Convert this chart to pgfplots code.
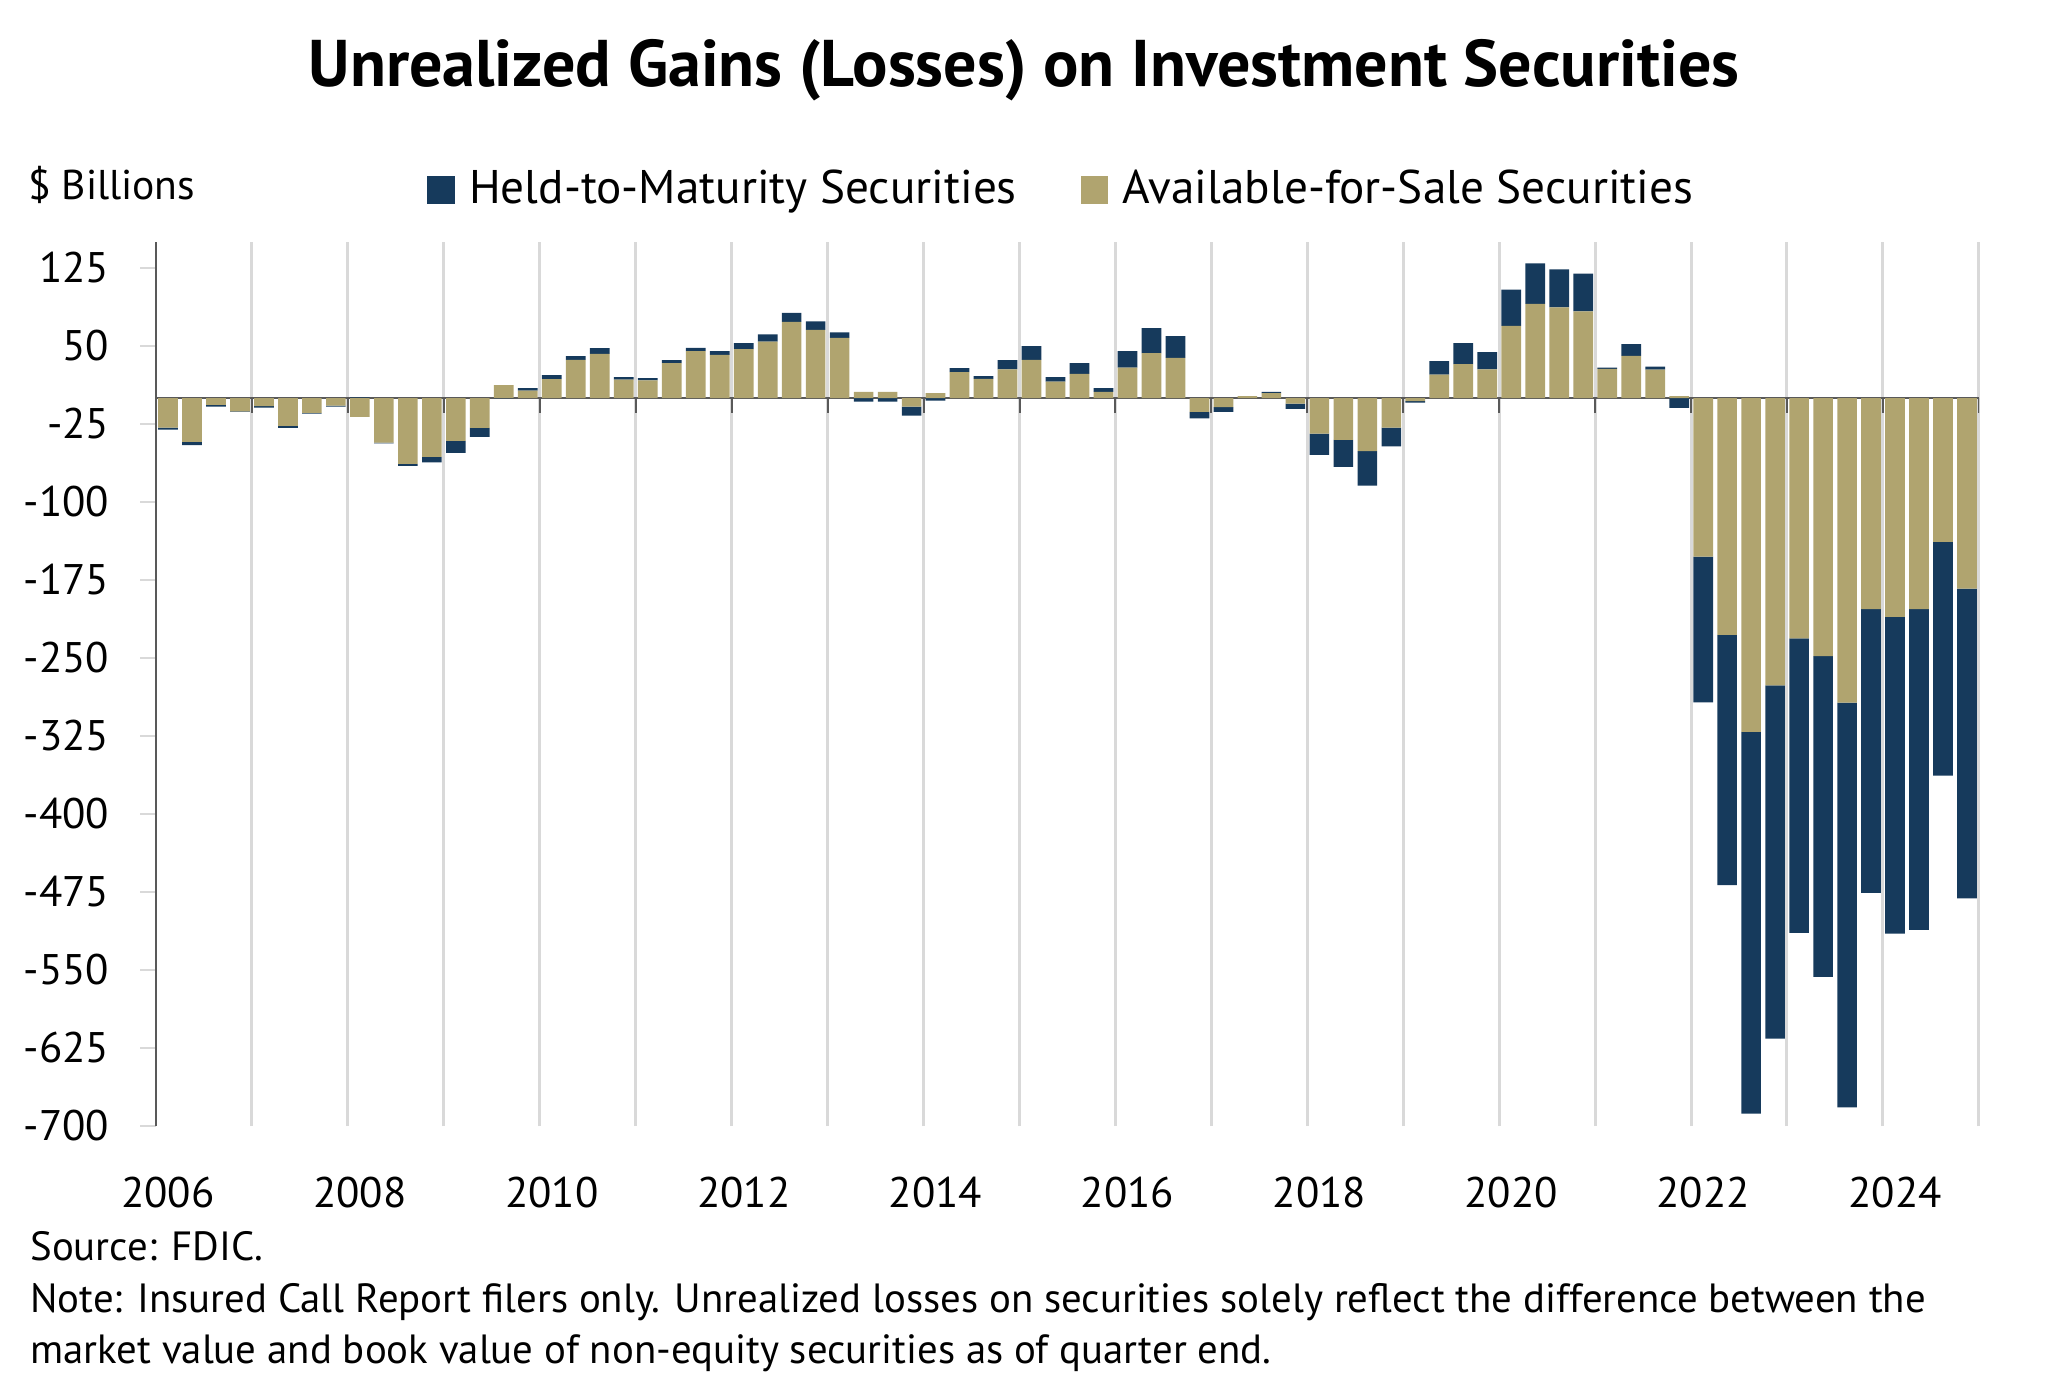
\documentclass[border=0pt]{standalone}
\usepackage{fontspec}
\setmainfont{PT Sans}
\usepackage{pgfplots}
\usepackage{pgfplotstable}
\pgfplotsset{compat=1.18}

\definecolor{htm}{HTML}{163A5C}
\definecolor{afs}{HTML}{B0A46F}
\definecolor{gridgray}{HTML}{D9D9D9}
\definecolor{axisgray}{HTML}{595959}

% quarterly values, $ billions; x = year + (quarter - 0.5)/4
\pgfplotstableread{
x        afs     htm
2006.125 -28.4   -1.9
2006.375 -42.2   -3.2
2006.625 -6.7    -1.6
2006.875 -12.8   -0.6
2007.125 -7.7    -1.6
2007.375 -26.8   -1.9
2007.625 -14.4   -0.6
2007.875 -7.3    -1.0
2008.125 -18.2   0.6
2008.375 -43.0   -0.6
2008.625 -63.3   -1.9
2008.875 -56.5   -5.4
2009.125 -41.2   -11.5
2009.375 -28.8   -8.6
2009.625 12.5    -0.4
2009.875 7.0     2.6
2010.125 18.2    3.8
2010.375 36.7    3.5
2010.625 42.5    5.4
2010.875 17.6    2.6
2011.125 16.9    2.2
2011.375 33.5    2.9
2011.625 45.0    3.2
2011.875 41.5    3.5
2012.125 47.0    5.8
2012.375 54.3    7.0
2012.625 73.2    8.6
2012.875 65.5    8.3
2013.125 57.8    5.4
2013.375 5.8     -3.5
2013.625 5.8     -3.5
2013.875 -8.3    -8.6
2014.125 4.8     -2.6
2014.375 24.9    3.8
2014.625 18.5    2.6
2014.875 27.5    8.9
2015.125 36.7    13.1
2015.375 15.7    4.5
2015.625 23.3    10.2
2015.875 5.8     3.8
2016.125 29.1    16.0
2016.375 43.1    24.0
2016.625 38.7    20.8
2016.875 -13.4   -6.1
2017.125 -8.8    -4.6
2017.375 1.9     0.0
2017.625 4.8     1.0
2017.875 -5.4    -5.1
2018.125 -34.2   -20.4
2018.375 -40.3   -25.9
2018.625 -51.1   -33.2
2018.875 -28.4   -18.2
2019.125 -2.9    -1.6
2019.375 22.4    13.1
2019.625 32.6    20.1
2019.875 27.5    16.6
2020.125 69.3    34.8
2020.375 90.4    39.0
2020.625 87.2    36.4
2020.875 83.4    36.1
2021.125 28.1    1.0
2021.375 40.6    11.2
2021.625 27.2    2.9
2021.875 1.9     -9.6
2022.125 -152.4  -140.3
2022.375 -227.8  -240.6
2022.625 -321.1  -367.0
2022.875 -276.4  -339.6
2023.125 -231.0  -283.4
2023.375 -248.2  -308.3
2023.625 -293.0  -389.0
2023.875 -202.9  -273.0
2024.125 -210.5  -304.5
2024.375 -202.9  -308.6
2024.625 -138.3  -224.7
2024.875 -183.4  -297.8
}\gains

\begin{document}
\begin{tikzpicture}
\useasboundingbox (0,0) rectangle (511.25pt,348.5pt);

\node[anchor=base, inner sep=0pt, font=\fontsize{16.5}{19}\selectfont\bfseries]
  at (256pt,326.75pt) {Unrealized Gains (Losses) on Investment Securities};
\node[anchor=base west, inner sep=0pt, font=\fontsize{10.4}{12}\selectfont]
  at (6.8pt,298.5pt) {\$ Billions};

\begin{axis}[
  at={(39pt,67pt)}, anchor=south west,
  scale only axis, width=455.75pt, height=221pt,
  xmin=2006, xmax=2025, ymin=-700, ymax=150,
  ybar stacked, stack negative=separate, bar width=0.205,
  axis lines*=left,
  x axis line style={draw=none},
  y axis line style={draw=axisgray, line width=0.4pt},
  font=\fontsize{10.7}{12}\selectfont,
  xtick={2006.125,2008.125,2010.125,2012.125,2014.125,2016.125,2018.125,2020.125,2022.125,2024.125},
  xticklabels={2006,2008,2010,2012,2014,2016,2018,2020,2022,2024},
  xtick style={draw=none},
  xticklabel style={inner sep=0pt, anchor=north, yshift=-8.5pt},
  minor xtick={2007,...,2025},
  xminorgrids,
  minor grid style={draw=gridgray, line width=0.75pt},
  minor tick length=0pt,
  ytick={-700,-625,...,125},
  yticklabels={-700,-625,-550,-475,-400,-325,-250,-175,-100,-25,50,125},
  tick align=outside,
  major tick length=4pt,
  ytick style={draw=gridgray, line width=0.6pt},
  yticklabel style={inner sep=0pt, anchor=east, xshift=-7.5pt},
  legend columns=2,
  reverse legend,
  legend style={draw=none, fill=none, inner sep=0pt,
    at={(0.496,1)}, anchor=center, yshift=13pt,
    font=\fontsize{11.8}{13}\selectfont,
    nodes={inner sep=0pt},
    /tikz/every odd column/.append style={column sep=3.6pt},
    /tikz/every even column/.append style={column sep=16pt}},
]
\addplot[fill=afs, draw=none,
  legend image code/.code={\fill[afs] (0pt,-3.4pt) rectangle (6.9pt,3.4pt);}]
  table[x=x, y=afs] {\gains};
\addplot[fill=htm, draw=none,
  legend image code/.code={\fill[htm] (0pt,-3.4pt) rectangle (6.9pt,3.4pt);}]
  table[x=x, y=htm] {\gains};
\legend{Available-for-Sale Securities, Held-to-Maturity Securities}

\draw[axisgray, line width=0.5pt] (axis cs:2006,0) -- (axis cs:2025,0);
\pgfplotsinvokeforeach{2007,...,2025}{
  \draw[axisgray, line width=0.5pt] (axis cs:#1,0) -- ([yshift=-3.8pt]axis cs:#1,0);
}
\end{axis}

\begin{scope}[every node/.style={anchor=base west, inner sep=0pt, font=\fontsize{10.2}{12}\selectfont}]
\node at (7.4pt,33.5pt) {Source: FDIC.};
\node at (7.4pt,20.3pt) {Note: Insured Call Report filers only. Unrealized losses on securities solely reflect the difference between the};
\node at (7.4pt,7.6pt) {market value and book value of non-equity securities as of quarter end.};
\end{scope}
\end{tikzpicture}
\end{document}
